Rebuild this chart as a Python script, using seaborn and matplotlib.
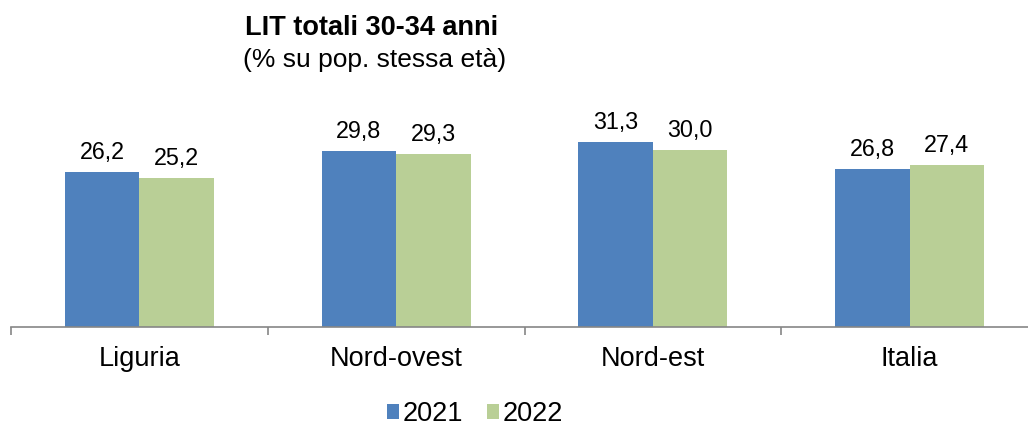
import matplotlib
matplotlib.use("Agg")
import matplotlib.pyplot as plt
import seaborn as sns
import pandas as pd

# data
categories = ["Liguria", "Nord-ovest", "Nord-est", "Italia"]
years = ["2021", "2022"]
values_2021 = [26.2, 29.8, 31.3, 26.8]
values_2022 = [25.2, 29.3, 30.0, 27.4]

df = pd.DataFrame({
    "area": categories * 2,
    "anno": [years[0]] * 4 + [years[1]] * 4,
    "valore": values_2021 + values_2022,
})

sns.set_theme(style="white")
plt.rcParams["font.family"] = ["Liberation Sans", "DejaVu Sans"]
plt.rcParams["text.color"] = "black"

fig = plt.figure(figsize=(10.28, 4.26), dpi=100)
ax = fig.add_axes([11 / 1028, 0.2324, 1027 / 1028, 0.4847])

colors = {"2021": "#4F81BD", "2022": "#B9CF96"}
sns.barplot(data=df, x="area", y="valore", hue="anno", palette=colors,
            width=0.58, gap=0, ax=ax, legend=True, saturation=1,
            edgecolor="none")

# value labels above bars
for cont in ax.containers:
    labels = [f"{v:.1f}".replace(".", ",") for v in cont.datavalues]
    ax.bar_label(cont, labels=labels, padding=6, fontsize=16.8,
                 color="black", clip_on=False)

ax.set_ylim(0, 35)
ax.set_xlim(-0.5, 3.5)
ax.set_xlabel("")
ax.set_ylabel("")
ax.set_yticks([])
for s in ["top", "right", "left"]:
    ax.spines[s].set_visible(False)
ax.spines["bottom"].set_color("#868686")
ax.spines["bottom"].set_linewidth(1.2)

ax.tick_params(axis="x", which="major", length=0, pad=14, labelsize=19.5,
               labelcolor="black")
ax.set_xticks([-0.5, 0.5, 1.5, 2.5, 3.5], minor=True)
ax.tick_params(axis="x", which="minor", length=6, width=1.2, color="#868686",
               direction="out", bottom=True)

leg = ax.legend(loc="center", bbox_to_anchor=(475 / 1028, 12 / 426),
                bbox_transform=fig.transFigure, ncol=2, frameon=False,
                fontsize=19.5, handlelength=0.45, handleheight=0.45,
                handletextpad=0.15, columnspacing=0.85, borderpad=0)
for t in leg.get_texts():
    t.set_color("black")

fig.text(372 / 1028, 1 - 28 / 426, "LIT totali 30-34 anni", ha="center",
         va="center", fontsize=19.5, fontweight="bold")
fig.text(375 / 1028, 1 - 60 / 426, "(% su pop. stessa età)", ha="center",
         va="center", fontsize=19)

fig.savefig("out.png", dpi=100)
